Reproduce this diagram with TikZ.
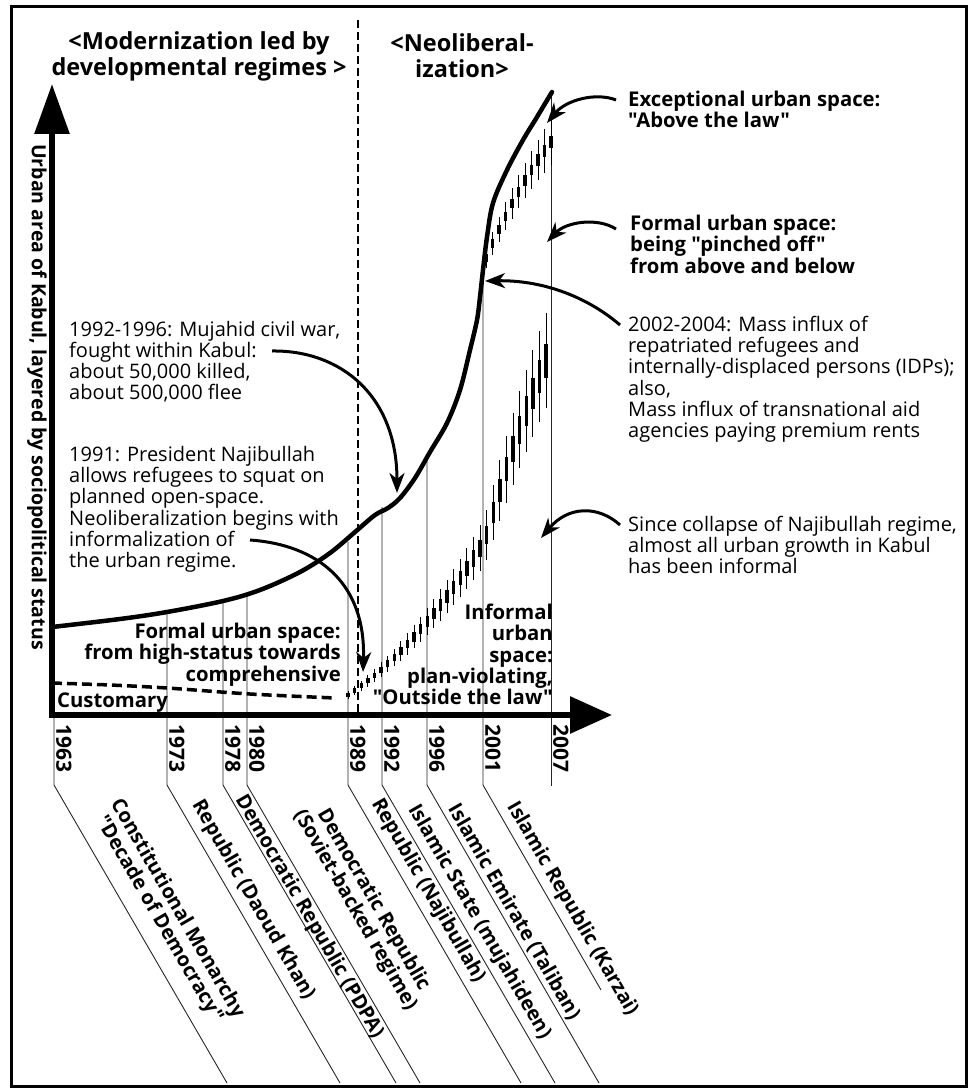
\documentclass[tikz,border=0pt]{standalone}
\usepackage{fontspec}
\setmainfont{Open Sans}[Ligatures=TeXOff]
\usetikzlibrary{arrows.meta, positioning}

\newcommand{\dquote}{\char34\relax}

\tikzset{
  note/.style={font=\fontsize{20}{21.2}\selectfont, align=left, inner sep=0pt},
  bnote/.style={font=\fontsize{20.3}{21.2}\selectfont\bfseries, inner sep=0pt},
  head/.style={font=\fontsize{23.5}{26}\selectfont\bfseries, align=center, inner sep=0pt},
  yearlbl/.style={font=\fontsize{21}{21}\selectfont\bfseries, rotate=-90, anchor=south west, inner sep=1pt},
  regime/.style={font=\fontsize{20}{21}\selectfont\bfseries, rotate=-60, align=center, inner sep=0pt},
  callout/.style={line width=3pt, -{Stealth[length=20pt,width=15pt,inset=6pt]}},
  yearline/.style={line width=0.9pt, draw=black!85},
}

\begin{document}
\begin{tikzpicture}[x=1pt, y=1pt]
    \useasboundingbox (0,0) rectangle (976,-1091);
    \draw[line width=3pt] (11,-7) rectangle (966,-1086);

    % periods
    \node[head] (modern) at (199,-56) {<Modernization led by\\developmental regimes >};
    \node[head] (neolib) at (462,-56) {<Neoliberal-\\ization>};
    \draw[line width=1.6pt, dash pattern=on 8pt off 4pt] (358,-20) -- (358,-712);

    % year lines
    \foreach \x/\top/\ex/\ey in {54/718/227/1083, 167/612/340/1083, 223/601/396/1083,
        247/595/420/1083, 348/542/521/1083, 382/507/555/1083, 427/457/599/1083, 483/282/601/990}
        \draw[yearline] (\x,-\top) -- (\x,-785) -- (\ex,-\ey);
    \draw[yearline] (551,-92) -- (551,-786);

    \foreach \yr/\x in {1963/54, 1973/167, 1978/223, 1980/247, 1989/348, 1992/382, 1996/427, 2001/483, 2007/551}
        \node[yearlbl] (y\yr) at (\x+1,-723) {\yr};

    % regimes
    \node[regime] (monarchy) at (168,-914) {Constitutional Monarchy\\\dquote Decade of Democracy\dquote};
    \node[regime] (daoud) at (253,-900) {Republic (Daoud Khan)};
    \node[regime] (pdpa) at (309,-917) {Democratic Republic (PDPA)};
    \node[regime] (soviet) at (364,-905) {Democratic Republic\\(Soviet-backed regime)};
    \node[regime] (najib) at (428,-891) {Republic (Najibullah)};
    \node[regime] (mujah) at (479,-922) {Islamic State (mujahideen)};
    \node[regime] (taliban) at (514,-912) {Islamic Emirate (Taliban)};
    \node[regime] (karzai) at (572,-909) {Islamic Republic (Karzai)};

    % informal growth
    \foreach \i in {0,...,30}{
        \pgfmathsetmacro\cx{348+6.6*\i}
        \pgfmathsetmacro\cy{\cx<=483 ? 695-0.0035*(\cx-348)*(\cx-348)-0.65*(\cx-348) : 548-3.6*(\cx-483)+0.01*(\cx-483)*(\cx-483)}
        \pgfmathsetmacro\rise{695-\cy}
        \pgfmathsetmacro\bh{2+0.045*\rise}
        \pgfmathsetmacro\wh{4+0.13*\rise}
        \draw[line width=0.9pt] (\cx,-\cy-\wh) -- (\cx,-\cy+\wh);
        \fill (\cx-1.7,-\cy-\bh) rectangle (\cx+1.7,-\cy+\bh);
    }
    % exceptional space
    \foreach \i in {0,...,10}{
        \pgfmathsetmacro\cx{486+6.5*\i}
        \pgfmathsetmacro\dd{\cx-486}
        \pgfmathsetmacro\cy{258-2.3*\dd+0.008*\dd*\dd}
        \pgfmathsetmacro\bh{4+0.03*\dd}
        \pgfmathsetmacro\wh{10+0.2*\dd}
        \draw[line width=0.9pt] (\cx,-\cy-\wh) -- (\cx,-\cy+\wh);
        \fill (\cx-1.7,-\cy-\bh) rectangle (\cx+1.7,-\cy+\bh);
    }

    % customary
    \draw[line width=3.5pt, dash pattern=on 10pt off 5pt] plot[smooth] coordinates {(52,-683) (110,-685) (167,-688) (250,-694) (335,-698)};

    % formal urban area
    \draw[line width=4.5pt, line cap=round] plot[smooth, tension=0.55] coordinates {
        (52,-627) (120,-619) (167,-612) (223,-601) (260,-590) (300,-572) (330,-553) (355,-532)
        (375,-515) (388,-508) (400,-498) (415,-478) (430,-452) (447,-423) (460,-390) (470,-350)
        (477,-320) (480,-297) (483,-270) (487,-237) (493,-203) (507,-170) (523,-140) (537,-117) (552,-92)};

    % axes
    \draw[line width=6pt, -{Triangle[length=50pt,width=34pt]}] (52,-718) -- (52,-84);
    \draw[line width=6pt, -{Triangle[length=42pt,width=36pt]}] (49,-715) -- (612,-715);
    \node[bnote, font=\fontsize{19.5}{21}\selectfont\bfseries, rotate=-90] (ylabel) at (37,-397) {Urban area of Kabul, layered by sociopolitical status};

    % labels
    \node[bnote, anchor=base west] (custom) at (57,-707) {Customary};
    \node[bnote, align=right, anchor=north east] (formal) at (341,-623) {Formal urban space:\\from high-status towards\\comprehensive};
    \node[bnote, align=right, anchor=north east] (informal) at (553,-604) {Informal\\urban\\space:\\plan-violating,\\\dquote Outside the law\dquote};
    \node[bnote, align=left, anchor=north west] (except) at (628,-91) {Exceptional urban space:\\\dquote Above the law\dquote};
    \node[bnote, align=left, anchor=north west] (pinch) at (630,-215) {Formal urban space:\\being \dquote pinched off\dquote\\from above and below};

    \node[note, anchor=north west] (war) at (69,-321) {1992-1996: Mujahid civil war,\\fought within Kabul:\\about 50,000 killed,\\about 500,000 flee};
    \node[note, anchor=north west] (squat) at (69,-446) {1991: President Najibullah\\allows refugees to squat on\\planned open-space.\\Neoliberalization begins with\\informalization of\\the urban regime.};
    \node[note, anchor=north west] (influx) at (628,-316) {2002-2004: Mass influx of\\repatriated refugees and\\internally-displaced persons (IDPs);\\also,\\Mass influx of transnational aid\\agencies paying premium rents};
    \node[note, anchor=north west] (since) at (628,-516) {Since collapse of Najibullah regime,\\almost all urban growth in Kabul\\has been informal};

    % callouts
    \coordinate (warFrom) at (272,-351);
    \coordinate (warTo) at (397,-493);
    \coordinate (squatFrom) at (250,-540);
    \coordinate (squatTo) at (363,-672);
    \coordinate (influxFrom) at (620,-325);
    \coordinate (influxTo) at (485,-281);
    \coordinate (sinceFrom) at (620,-525);
    \coordinate (sinceTo) at (541,-538);
    \coordinate (exceptFrom) at (616,-100);
    \coordinate (exceptTo) at (547,-123);
    \coordinate (pinchFrom) at (616,-229);
    \coordinate (pinchTo) at (547,-242);
    \draw[callout] (warFrom) .. controls (340,-350) and (397,-395) .. (warTo);
    \draw[callout] (squatFrom) .. controls (320,-545) and (366,-585) .. (squatTo);
    \draw[callout] (influxFrom) .. controls (585,-295) and (540,-280) .. (influxTo);
    \draw[callout] (sinceFrom) .. controls (598,-505) and (568,-506) .. (sinceTo);
    \draw[callout] (exceptFrom) .. controls (596,-92) and (566,-100) .. (exceptTo);
    \draw[callout] (pinchFrom) .. controls (597,-217) and (566,-222) .. (pinchTo);
\end{tikzpicture}
\end{document}
